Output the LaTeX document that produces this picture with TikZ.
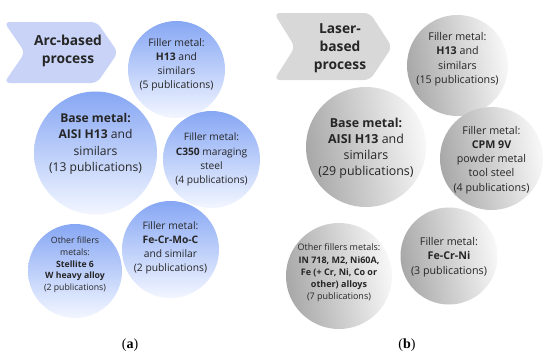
\documentclass[tikz,border=0pt]{standalone}
\usepackage{fontspec}
\setmainfont{Open Sans}
\newfontfamily\capfont{Liberation Serif}
\definecolor{blueA}{RGB}{135,167,244}
\definecolor{blueB}{RGB}{242,246,255}
\definecolor{chevblue}{RGB}{200,211,247}
\definecolor{greyA}{RGB}{168,168,168}
\definecolor{greyB}{RGB}{248,248,248}
\definecolor{chevgrey}{RGB}{216,216,216}
\definecolor{txtc}{RGB}{38,38,38}
\tikzset{
  bluecirc/.style={circle, inner sep=0pt, minimum size=#1, draw=none, top color=blueA, bottom color=blueB},
  greycirc/.style={circle, inner sep=0pt, minimum size=#1, draw=none, left color=greyA, right color=greyB, shading angle=100},
  lbl/.style={align=center, text=txtc, inner sep=0pt},
  chevtxt/.style={lbl, font=\bfseries\fontsize{13.8}{18}\selectfont},
  fs/.style 2 args={font=\fontsize{#1}{#2}\selectfont},
  caplbl/.style={text=black, inner sep=0pt, font=\capfont\fontsize{14}{16}\selectfont}
}
\begin{document}
\begin{tikzpicture}[x=1pt,y=-1pt]
\useasboundingbox[fill=white] (0,0) rectangle (550,357);
% ---------- (a) ----------
\fill[chevblue, rounded corners=6pt] (4,22) -- (97,22) -- (118,52.5) -- (97,83) -- (4,83) -- (25,52.5) -- cycle;
\node[chevtxt] (arc) at (68,51) {Arc-based\\process};
\node[bluecirc=97pt] (a1) at (176.5,69.5) {};
\node[bluecirc=123pt] (a2) at (95.5,153) {};
\node[bluecirc=97pt] (a3) at (211.5,159.5) {};
\node[bluecirc=97pt] (a4) at (170.5,249.5) {};
\node[bluecirc=94pt] (a5) at (75,271) {};
\node[lbl, fs={10.4}{14}] (ta1) at (176.5,65) {Filler metal:\\\textbf{H13} and\\similars\\(5 publications)};
\node[lbl, fs={12.1}{16.5}] (ta2) at (95.5,144) {\textbf{Base metal:}\\\textbf{AISI H13} and\\similars\\(13 publications)};
\node[lbl, fs={10.2}{14.3}] (ta3) at (211.5,159.5) {Filler metal:\\\textbf{C350} maraging\\steel\\(4 publications)};
\node[lbl, fs={10.3}{14}] (ta4) at (170.5,248) {Filler metal:\\\textbf{Fe-Cr-Mo-C}\\and similar\\(2 publications)};
\node[lbl, fs={8.7}{11.7}] (ta5) at (75,265) {Other fillers\\metals:\\\textbf{Stellite 6}\\\textbf{W heavy alloy}\\(2 publications)};
\node[caplbl] (capa) at (130,345) {(\textbf{a})};
% ---------- (b) ----------
\fill[chevgrey, rounded corners=6pt] (274,13) -- (370,13) -- (392,47) -- (370,80) -- (274,80) -- (295,47) -- cycle;
\node[chevtxt] (laser) at (340,48) {Laser-\\based\\process};
\node[greycirc=101pt] (b1) at (457.5,65.5) {};
\node[greycirc=120pt] (b2) at (366,147) {};
\node[greycirc=103pt] (b3) at (491.5,158.5) {};
\node[greycirc=97pt] (b4) at (449,256) {};
\node[greycirc=106pt] (b5) at (339,276) {};
\node[lbl, fs={10.7}{14.5}] (tb1) at (457.5,59) {Filler metal:\\\textbf{H13} and\\similars\\(15 publications)};
\node[lbl, fs={12.4}{16}] (tb2) at (366,148) {\textbf{Base metal:}\\\textbf{AISI H13} and\\similars\\(29 publications)};
\node[lbl, fs={10.7}{14.2}] (tb3) at (491.5,160) {Filler metal:\\\textbf{CPM 9V}\\powder metal\\tool steel\\(4 publications)};
\node[lbl, fs={10.7}{14.5}] (tb4) at (449,257) {Filler metal:\\\textbf{Fe-Cr-Ni}\\(3 publications)};
\node[lbl, fs={9.0}{12.2}] (tb5) at (339,273) {Other fillers metals:\\\textbf{IN 718, M2, Ni60A,}\\\textbf{Fe (+ Cr, Ni, Co or}\\\textbf{other) alloys}\\(7 publications)};
\node[caplbl] (capb) at (407,345) {(\textbf{b})};
\end{tikzpicture}
\end{document}
